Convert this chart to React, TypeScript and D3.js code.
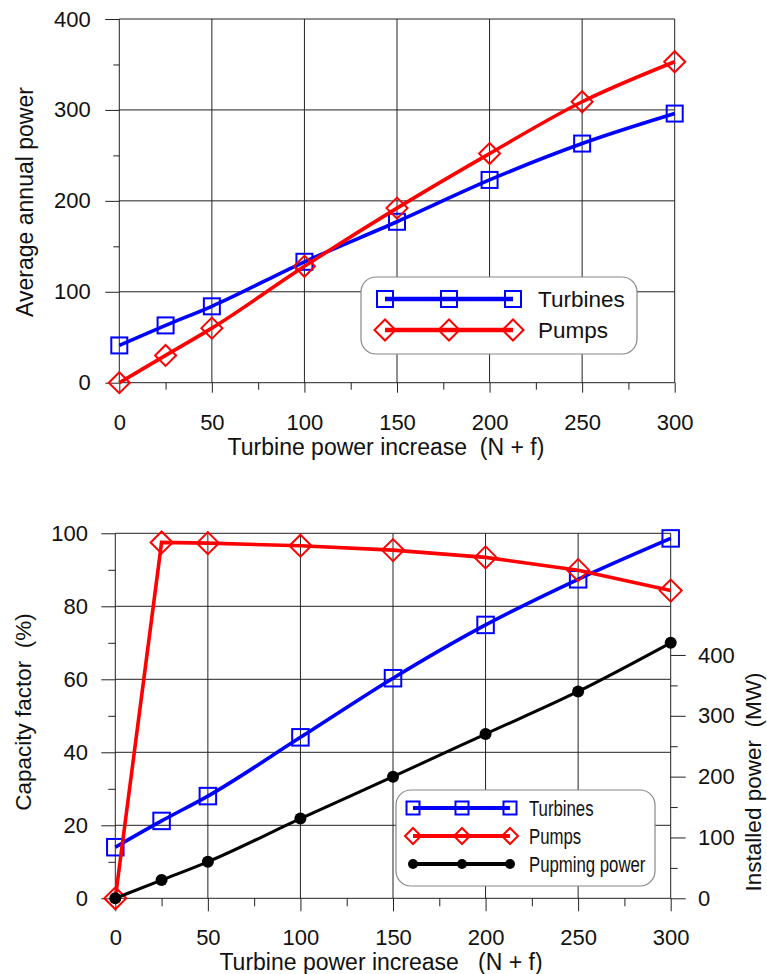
import { useEffect, useRef } from "react";
import * as d3 from "d3";

// turbine power increase (N + f)
const powerIncrease = [0, 25, 50, 100, 150, 200, 250, 300];

// top chart: average annual power
const turbinesAnnual = [41, 63, 84, 133, 177, 223, 263, 296];
const pumpsAnnual = [0, 30, 60, 128, 192, 252, 309, 353];

// bottom chart: capacity factor (%) and installed power (MW)
const turbinesCapacity = [14, 21.2, 28, 44.1, 60.3, 74.9, 87.4, 98.6];
const pumpsCapacity = [0, 97.5, 97.3, 96.6, 95.4, 93.4, 89.9, 84.3];
const pumpingPowerMW = [0, 30, 60, 131, 200, 270, 340, 420];

const xTicks = [0, 50, 100, 150, 200, 250, 300];
const xMinor = [25, 75, 125, 175, 225, 275];
const annualTicks = [0, 100, 200, 300, 400];
const annualMinor = [50, 150, 250, 350];
const capacityTicks = [0, 20, 40, 60, 80, 100];
const capacityMinor = [10, 30, 50, 70, 90];
const installedTicks = [0, 100, 200, 300, 400];
const installedMinor = [50, 150, 250, 350];

const topLegend = ["Turbines", "Pumps"];
const bottomLegend = ["Turbines", "Pumps", "Pupming power"];

const FONT = "'Liberation Sans', Arial, Helvetica, sans-serif";
const BLUE = "#0000ff";
const RED = "#ff0000";
const GRID = "#222";

function marker(g, kind, cx, cy, s, color) {
  if (kind === "square") {
    g.append("rect").attr("x", cx - s / 2).attr("y", cy - s / 2)
      .attr("width", s).attr("height", s)
      .attr("fill", "none").attr("stroke", color).attr("stroke-width", 2);
  } else if (kind === "diamond") {
    g.append("path")
      .attr("d", `M${cx},${cy - s}L${cx + s},${cy}L${cx},${cy + s}L${cx - s},${cy}Z`)
      .attr("fill", "none").attr("stroke", color).attr("stroke-width", 2);
  } else {
    g.append("circle").attr("cx", cx).attr("cy", cy).attr("r", s)
      .attr("fill", color);
  }
}

function grid(g, x, y, xt, yt) {
  const [x0, x1] = x.range();
  const [y0, y1] = y.range();
  g.selectAll(".vg").data(xt).join("line").attr("class", "vg")
    .attr("x1", d => x(d)).attr("x2", d => x(d)).attr("y1", y0).attr("y2", y1)
    .attr("stroke", GRID).attr("stroke-width", 1);
  g.selectAll(".hg").data(yt).join("line").attr("class", "hg")
    .attr("x1", x0).attr("x2", x1).attr("y1", d => y(d)).attr("y2", d => y(d))
    .attr("stroke", GRID).attr("stroke-width", 1);
}

function styleAxis(a) {
  a.select(".domain").remove();
  a.selectAll("line").attr("stroke", GRID);
  a.selectAll("text").attr("font-size", 22).attr("font-family", FONT).attr("fill", "#111");
}

const App = () => {
  const svgRef = useRef(null);

  useEffect(() => {
    const svg = d3.select(svgRef.current);
    svg.selectAll("*").remove();

    // ---------- top chart ----------
    const x1 = d3.scaleLinear().domain([0, 300]).range([119.3, 674.7]);
    const y1 = d3.scaleLinear().domain([0, 400]).range([382.7, 19]);
    const top = svg.append("g");
    grid(top, x1, y1, xTicks, annualTicks);

    styleAxis(top.append("g").attr("transform", `translate(${x1(0)},0)`)
      .call(d3.axisLeft(y1).tickValues(annualTicks).tickSize(14).tickPadding(14.5)));
    styleAxis(top.append("g").attr("transform", `translate(${x1(0)},0)`)
      .call(d3.axisLeft(y1).tickValues(annualMinor).tickSize(6).tickFormat(() => "")));
    styleAxis(top.append("g").attr("transform", `translate(0,${y1(0)})`)
      .call(d3.axisBottom(x1).tickValues(xTicks).tickSize(10).tickPadding(21.5)));
    styleAxis(top.append("g").attr("transform", `translate(0,${y1(0)})`)
      .call(d3.axisBottom(x1).tickValues(xMinor).tickSize(7).tickFormat(() => "")));

    const topSeries = [
      { vals: turbinesAnnual, color: BLUE, kind: "square", size: 16 },
      { vals: pumpsAnnual, color: RED, kind: "diamond", size: 10.5 },
    ];
    topSeries.forEach(s => {
      const ln = d3.line().x((d, i) => x1(powerIncrease[i])).y(d => y1(d)).curve(d3.curveMonotoneX);
      top.append("path").attr("d", ln(s.vals)).attr("fill", "none")
        .attr("stroke", s.color).attr("stroke-width", 3.6);
      s.vals.forEach((v, i) => marker(top, s.kind, x1(powerIncrease[i]), y1(v), s.size, s.color));
    });

    top.append("text").attr("transform", "translate(33,202) rotate(-90)")
      .attr("text-anchor", "middle").attr("font-size", 23).attr("font-family", FONT)
      .attr("fill", "#111").text("Average annual power");
    top.append("text").attr("x", 386).attr("y", 455).attr("text-anchor", "middle")
      .attr("font-size", 23).attr("font-family", FONT).attr("fill", "#111")
      .style("white-space", "pre").text("Turbine power increase  (N + f)");

    // top legend
    const lg1 = top.append("g");
    lg1.append("rect").attr("x", 361).attr("y", 277).attr("width", 276).attr("height", 77)
      .attr("rx", 15).attr("fill", "#fff").attr("stroke", "#888").attr("stroke-width", 1.2);
    topLegend.forEach((name, i) => {
      const s = topSeries[i];
      const yy = 299 + i * 31;
      lg1.append("line").attr("x1", 385).attr("x2", 513).attr("y1", yy).attr("y2", yy)
        .attr("stroke", s.color).attr("stroke-width", 4.6);
      [385, 449, 513].forEach(px => marker(lg1, s.kind, px, yy, s.size, s.color));
      lg1.append("text").attr("x", 538).attr("y", yy).attr("dy", "0.35em")
        .attr("font-size", 22.5).attr("font-family", FONT).attr("fill", "#111").text(name);
    });

    // ---------- bottom chart ----------
    const x2 = d3.scaleLinear().domain([0, 300]).range([115.3, 670.7]);
    const y2 = d3.scaleLinear().domain([0, 100]).range([898.3, 533.3]);
    const y2r = d3.scaleLinear().domain([0, 600]).range([898.3, 533.3]);
    const bot = svg.append("g");
    grid(bot, x2, y2, xTicks, capacityTicks);

    styleAxis(bot.append("g").attr("transform", `translate(${x2(0)},0)`)
      .call(d3.axisLeft(y2).tickValues(capacityTicks).tickSize(14).tickPadding(13.3)));
    styleAxis(bot.append("g").attr("transform", `translate(${x2(0)},0)`)
      .call(d3.axisLeft(y2).tickValues(capacityMinor).tickSize(7).tickFormat(() => "")));
    styleAxis(bot.append("g").attr("transform", `translate(0,${y2(0)})`)
      .call(d3.axisBottom(x2).tickValues(xTicks).tickSize(13).tickPadding(18.5)));
    styleAxis(bot.append("g").attr("transform", `translate(0,${y2(0)})`)
      .call(d3.axisBottom(x2).tickValues(xMinor).tickSize(8).tickFormat(() => "")));
    styleAxis(bot.append("g").attr("transform", `translate(${x2(300)},0)`)
      .call(d3.axisRight(y2r).tickValues(installedTicks).tickSize(15).tickPadding(12.3)));
    styleAxis(bot.append("g").attr("transform", `translate(${x2(300)},0)`)
      .call(d3.axisRight(y2r).tickValues(installedMinor).tickSize(7).tickFormat(() => "")));

    const botSeries = [
      { vals: turbinesCapacity, y: y2, color: BLUE, kind: "square", size: 16.5, lsize: 13, w: 3.6, curve: d3.curveMonotoneX },
      { vals: pumpsCapacity, y: y2, color: RED, kind: "diamond", size: 11, lsize: 8, w: 3.6, curve: d3.curveLinear },
      { vals: pumpingPowerMW, y: y2r, color: "#000", kind: "circle", size: 6, lsize: 5, w: 3, curve: d3.curveMonotoneX },
    ];
    botSeries.forEach(s => {
      const ln = d3.line().x((d, i) => x2(powerIncrease[i])).y(d => s.y(d)).curve(s.curve);
      bot.append("path").attr("d", ln(s.vals)).attr("fill", "none")
        .attr("stroke", s.color).attr("stroke-width", s.w);
      s.vals.forEach((v, i) => marker(bot, s.kind, x2(powerIncrease[i]), s.y(v), s.size, s.color));
    });

    bot.append("text").attr("transform", "translate(31,712) rotate(-90)")
      .attr("text-anchor", "middle").attr("font-size", 22.5).attr("font-family", FONT)
      .attr("fill", "#111").style("white-space", "pre").text("Capacity factor  (%)");
    bot.append("text").attr("transform", "translate(761,782) rotate(-90)")
      .attr("text-anchor", "middle").attr("font-size", 22.5).attr("font-family", FONT)
      .attr("fill", "#111").style("white-space", "pre").text("Installed power  (MW)");
    bot.append("text").attr("x", 381).attr("y", 970).attr("text-anchor", "middle")
      .attr("font-size", 23).attr("font-family", FONT).attr("fill", "#111")
      .style("white-space", "pre").text("Turbine power increase   (N + f)");

    // bottom legend
    const lg2 = bot.append("g");
    lg2.append("rect").attr("x", 396).attr("y", 790).attr("width", 259).attr("height", 96)
      .attr("rx", 15).attr("fill", "#fff").attr("stroke", "#888").attr("stroke-width", 1.2);
    bottomLegend.forEach((name, i) => {
      const s = botSeries[i];
      const yy = 808 + i * 28;
      lg2.append("line").attr("x1", 413).attr("x2", 510).attr("y1", yy).attr("y2", yy)
        .attr("stroke", s.color).attr("stroke-width", 4);
      [413, 462, 510].forEach(px => marker(lg2, s.kind, px, yy, s.lsize, s.color));
      lg2.append("text").attr("transform", `translate(529,${yy}) scale(0.78,1)`).attr("dy", "0.35em")
        .attr("font-size", 21.5).attr("font-family", FONT).attr("fill", "#111").text(name);
    });
  }, []);

  return (
    <div>
      <svg ref={svgRef} width={767} height={974}
        style={{ position: "absolute", left: 0, top: 0, background: "#fff" }} />
    </div>
  );
};

export default App;
